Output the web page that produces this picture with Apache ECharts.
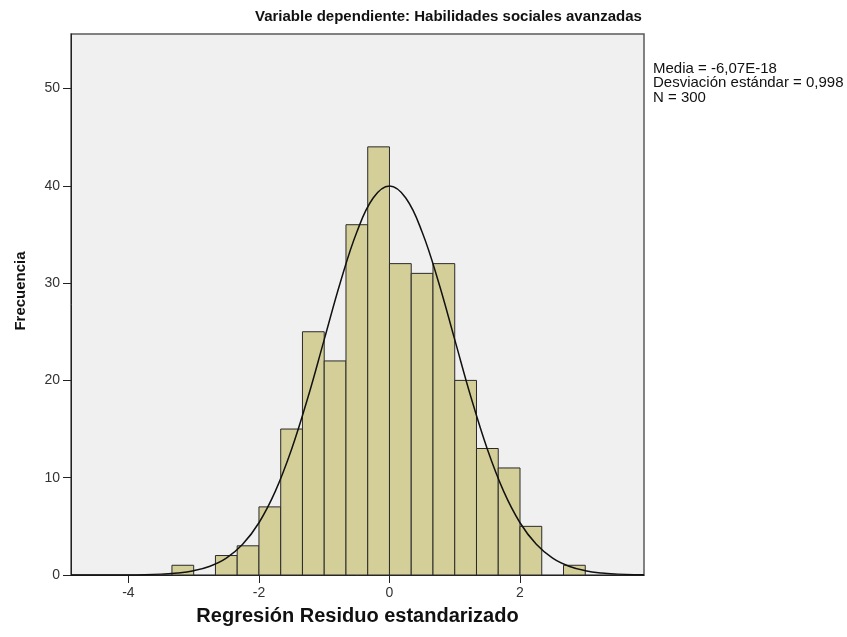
<!DOCTYPE html>
<html>
<head>
<meta charset="utf-8">
<title>Histograma</title>
<script src="https://cdn.jsdelivr.net/npm/echarts@6/dist/echarts.min.js"></script>
<style>
  html, body { margin: 0; padding: 0; background: #fff; }
  #chart { width: 847px; height: 637px; }
</style>
</head>
<body>
<div id="chart"></div>
<script>
  // histogram bins (width 1/3, first bin starts at -10/3)
  var binStart = -10 / 3;
  var binWidth = 1 / 3;
  var counts = [1, 0, 2, 3, 7, 15, 25, 22, 36, 44, 32, 31, 32, 20, 13, 11, 5, 0, 1];

  // normal curve
  var curveX = [-4.88, -4.5, -4.25, -4, -3.75, -3.5, -3.25, -3, -2.75, -2.5, -2.25, -2, -1.75, -1.5, -1.25, -1, -0.75, -0.5, -0.25,
                0, 0.25, 0.5, 0.75, 1, 1.25, 1.5, 1.75, 2, 2.25, 2.5, 2.75, 3, 3.25, 3.5, 3.75, 3.9];
  var curveY = [0, 0, 0.01, 0.01, 0.03, 0.09, 0.2, 0.44, 0.9, 1.73, 3.15, 5.37, 8.59, 12.92, 18.24, 24.19, 30.14, 35.25, 38.74,
                39.97, 38.74, 35.25, 30.14, 24.19, 18.24, 12.92, 8.59, 5.37, 3.15, 1.73, 0.9, 0.44, 0.2, 0.09, 0.03, 0.02];

  var xTicks = [-4, -2, 0, 2];
  var yTicks = [0, 10, 20, 30, 40, 50];

  var chartTitle = 'Variable dependiente: Habilidades sociales avanzadas';
  var xTitle = 'Regresión Residuo estandarizado';
  var yTitle = 'Frecuencia';
  var statsLines = ['Media = -6,07E-18', 'Desviación estándar = 0,998', 'N = 300'];

  var bars = counts.map(function (c, i) {
    var x0 = binStart + i * binWidth;
    return [x0, x0 + binWidth, c];
  }).filter(function (d) { return d[2] > 0; });

  var curve = curveX.map(function (x, i) { return [x, curveY[i]]; });

  var font = '"Liberation Sans", Arial, sans-serif';
  var chart = echarts.init(document.getElementById('chart'));
  chart.setOption({
    animation: false,
    textStyle: { fontFamily: font },
    grid: {
      left: 71, right: 203, top: 34, bottom: 62,
      show: true,
      backgroundColor: '#f0f0f0',
      borderColor: '#5a5a5a',
      borderWidth: 1.5
    },
    xAxis: {
      type: 'value',
      min: -4.88,
      max: 3.9,
      name: xTitle,
      nameLocation: 'middle',
      nameGap: 31,
      nameTextStyle: { fontSize: 20, fontWeight: 'bold', color: '#111' },
      axisLine: { show: true, onZero: false, lineStyle: { color: '#222', width: 1 } },
      axisTick: { show: true, length: 8, customValues: xTicks, lineStyle: { color: '#222' } },
      axisLabel: { customValues: xTicks, fontSize: 14, color: '#333', margin: 11 },
      splitLine: { show: false }
    },
    yAxis: {
      type: 'value',
      min: 0,
      max: 55.6,
      axisLine: { show: true, onZero: false, lineStyle: { color: '#222', width: 1 } },
      axisTick: { show: true, length: 8, customValues: yTicks, lineStyle: { color: '#222' } },
      axisLabel: { customValues: yTicks, fontSize: 14, color: '#333', margin: 11 },
      splitLine: { show: false }
    },
    graphic: [
      {
        type: 'text',
        left: 255,
        top: 9,
        style: { text: chartTitle, font: 'bold 15px ' + font, fill: '#111' }
      },
      {
        type: 'text',
        x: 21,
        y: 291,
        rotation: Math.PI / 2,
        style: { text: yTitle, font: 'bold 15px ' + font, fill: '#111', align: 'center', verticalAlign: 'middle' }
      },
      {
        type: 'text',
        left: 653,
        top: 61,
        style: { text: statsLines.join('\n'), font: '15px ' + font, lineHeight: 14.5, fill: '#111' }
      }
    ],
    series: [
      {
        type: 'custom',
        data: bars,
        renderItem: function (params, api) {
          var p0 = api.coord([api.value(0), 0]);
          var p1 = api.coord([api.value(1), api.value(2)]);
          return {
            type: 'rect',
            shape: { x: p0[0], y: p1[1], width: p1[0] - p0[0], height: p0[1] - p1[1] },
            style: { fill: '#d4cf98', stroke: '#2a2a2a', lineWidth: 1 }
          };
        },
        encode: { x: [0, 1], y: 2 },
        z: 2
      },
      {
        type: 'line',
        data: curve,
        smooth: 0.4,
        showSymbol: false,
        lineStyle: { color: '#111', width: 1.5 },
        z: 3
      }
    ]
  });
</script>
</body>
</html>
